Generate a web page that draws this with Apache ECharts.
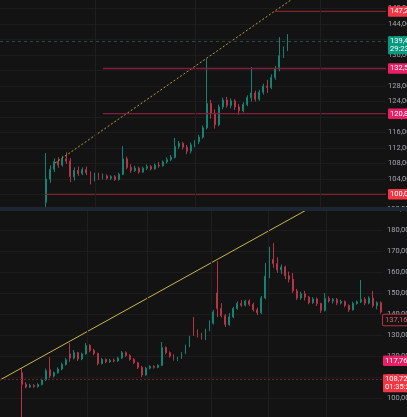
<!DOCTYPE html>
<html><head><meta charset="utf-8">
<script src="https://cdn.jsdelivr.net/npm/echarts@6/dist/echarts.min.js"></script>
<style>html,body{margin:0;padding:0;background:#131313;overflow:hidden}#c{width:407px;height:417px}</style>
</head><body><div id="c"></div>
<script>
// ---- data: [open, close, low, high] ----
const topOHLC = [
[98.0,104.0,96.8,110.7],[104.0,106.5,103.0,107.5],[106.5,108.5,105.8,109.3],[108.5,107.6,106.9,109.6],
[107.6,109.2,107.2,110.0],[109.2,108.6,107.9,110.9],[108.6,104.6,103.2,109.4],[104.6,106.2,103.6,107.0],
[106.2,105.4,104.8,107.2],[105.4,106.4,105.0,107.0],[106.4,105.6,105.0,107.2],[105.6,103.8,102.6,106.0],
[103.8,105.0,103.4,105.6],[105.0,104.4,103.8,105.6],[104.4,104.8,103.9,105.4],[104.8,104.2,103.8,105.2],
[104.2,104.6,103.7,105.0],[104.6,103.9,103.5,105.0],[103.9,105.2,103.6,105.6],[105.2,109.2,105.0,112.5],
[109.2,107.0,106.5,109.8],[107.0,106.2,105.6,107.8],[106.2,106.8,105.8,107.4],[106.8,105.8,105.4,107.2],
[105.8,106.8,105.6,107.2],[106.8,107.2,106.3,107.8],[107.2,106.6,106.2,107.6],[106.6,107.6,106.4,108.0],
[107.6,107.4,106.9,108.4],[107.4,108.4,107.2,108.8],[108.4,109.0,108.0,109.6],[109.0,109.6,108.6,110.2],
[109.6,112.4,109.3,114.6],[112.4,113.2,111.8,113.8],[113.2,112.2,111.6,113.6],[112.2,111.2,110.4,112.8],
[111.2,112.8,110.6,113.4],[112.8,113.6,112.2,114.0],[113.6,114.8,113.0,115.4],[114.8,117.2,114.4,117.8],
[117.2,123.5,116.8,135.0],[123.5,121.0,119.6,124.4],[121.0,118.0,117.0,122.0],[118.0,122.6,117.6,123.2],
[122.6,124.4,122.0,125.0],[124.4,123.0,122.4,125.2],[123.0,124.2,122.2,124.8],[124.2,122.6,121.8,124.6],
[122.6,121.6,120.6,123.4],[121.6,123.2,121.2,123.8],[123.2,125.0,122.8,125.6],[125.0,126.2,124.0,132.9],
[126.2,124.6,124.0,126.8],[124.6,126.4,124.2,127.0],[126.4,128.0,125.8,128.6],[128.0,127.6,126.2,129.6],
[127.6,130.2,127.2,131.0],[130.2,132.4,129.6,133.2],[132.4,135.8,131.8,140.6],[135.8,137.6,135.2,138.2],
[137.6,139.42,137.0,141.4]
];
const bottomOHLC = [
[112.0,106.5,90.5,114.3],[106.5,105.2,104.6,107.6],[105.2,106.0,104.8,106.8],[106.0,105.4,104.9,106.6],
[105.4,106.4,105.0,107.0],[106.4,108.6,106.0,109.2],[108.6,113.0,108.2,114.0],[113.5,110.5,109.5,119.5],
[110.5,112.0,109.8,112.6],[112.0,113.8,111.6,114.6],[113.8,116.0,113.2,116.8],[116.0,118.2,115.4,119.0],
[121.0,119.0,117.2,126.2],[119.0,121.6,118.4,122.9],[121.6,118.6,117.6,122.0],[118.6,121.0,118.0,121.6],
[121.0,125.0,120.6,126.2],[125.0,122.6,121.8,125.6],[122.6,121.2,120.4,123.4],[121.2,116.4,115.6,121.6],
[116.4,118.4,116.0,119.0],[118.4,117.2,116.6,118.8],[117.2,118.0,116.8,118.6],[118.0,117.6,117.0,118.8],
[117.6,119.0,117.2,119.6],[119.0,121.6,118.6,122.4],[121.6,120.2,119.6,122.2],[120.2,118.4,117.8,120.8],
[118.4,116.8,116.2,119.0],[116.8,114.6,113.8,117.2],[114.6,111.0,110.0,115.2],[111.0,114.2,110.6,114.8],
[114.2,115.0,113.6,115.6],[115.0,114.6,114.0,115.6],[114.6,115.6,114.2,116.0],[115.6,124.0,115.2,126.7],
[124.0,121.6,120.8,124.6],[121.6,120.0,119.2,122.2],[120.0,118.4,117.8,120.8],[118.4,119.0,117.6,119.6],
[119.0,121.2,118.6,121.8],[121.2,124.8,120.8,125.4],[124.8,129.0,124.2,129.6],[136.0,131.0,129.6,138.6],
[131.0,129.8,128.8,132.6],[129.8,128.6,127.8,131.0],[128.6,132.4,127.6,133.0],[132.4,135.6,131.8,137.0],
[135.6,141.0,135.0,141.9],[150.0,142.6,138.6,165.2],[142.6,139.2,138.4,145.2],[139.2,135.0,133.8,140.0],
[135.0,138.6,134.4,140.4],[138.6,142.6,138.0,143.4],[142.6,145.0,142.0,146.0],[145.0,144.2,143.4,146.7],
[144.2,146.2,143.6,146.8],[146.2,144.6,143.8,147.0],[144.6,142.0,141.2,145.4],[142.0,140.6,139.5,143.0],
[140.6,147.6,140.0,148.6],[147.6,158.0,147.0,164.3],[158.0,166.0,157.0,172.0],[166.0,164.0,162.0,173.8],
[164.0,161.0,159.6,167.0],[161.0,162.4,159.0,163.6],[162.4,158.2,156.6,163.0],[158.2,156.6,155.0,160.2],
[156.6,151.0,150.0,159.5],[151.0,147.6,146.7,152.0],[147.6,149.6,146.8,150.6],[149.6,148.0,146.4,151.0],
[148.0,145.4,144.6,148.6],[145.4,147.2,144.8,148.0],[147.2,145.0,143.8,147.8],[145.0,141.8,140.5,145.4],
[141.8,147.4,141.2,150.0],[147.4,146.2,145.4,148.4],[146.2,147.0,145.0,147.6],[147.0,145.2,144.2,147.6],
[145.2,146.0,144.6,146.8],[146.0,144.0,143.2,146.4],[144.0,142.0,141.0,144.6],[142.0,145.0,141.6,145.8],
[145.0,145.8,144.4,146.4],[145.8,147.0,145.2,156.2],[147.0,145.2,144.2,148.0],[145.2,147.6,144.6,148.4],
[147.6,144.0,143.0,151.0],[144.0,145.4,142.2,146.0],[145.4,141.0,140.2,146.0]
];
// horizontal levels drawn in the top panel
const topLevelValues = [147.24, 132.52, 120.86, 100.04];
const topLevelFrom = [68.4, 25.6, 25.6, 11.2];      // start slot of each drawn level
const topTrend = [[13.7, 108.13], [75, 152.1]];     // dotted trend line
const bottomTrend = [[0, 108.6], [80, 192.9]];      // solid trend line
// price tags on the right scale
const topTagValues = [147.24, 139.42, 132.52, 120.86, 100.04];
const topTagTexts = ['147,24', '139,42\n29:23', '132,52', '120,86', '100,04'];
const bottomTagValues = [137.16, 117.76, 108.72];
const bottomTagTexts = ['137,16', '117,76', '108,72\n01:35:29'];
const lastPriceTop = 139.42, lastPriceBottom = 108.72;

const SLOTS = 96, TOP_START = 11, BOTTOM_START = 5;
const cats = Array.from({length: SLOTS}, (_, i) => String(i));
function pad(arr, start) {
  const out = [];
  for (let i = 0; i < SLOTS; i++) {
    const k = i - start;
    out.push(k >= 0 && k < arr.length ? arr[k] : '-');
  }
  return out;
}
const fmt = v => v.toFixed(2).replace('.', ',');
const UP = '#148373', DOWN = '#b53446';
const FONT = 'Roboto';
const FS = 7.5;

function tag(v, text, bg, dist) {
  return {
    yAxis: v,
    lineStyle: {color: 'transparent', width: 1},
    label: {
      show: true, position: 'end', distance: dist, formatter: text,
      backgroundColor: bg, color: '#ffffff', fontSize: FS, fontFamily: FONT,
      lineHeight: 7.5, padding: [2, 4, 1, 2], borderRadius: 1,
      offset: text.indexOf('\n') >= 0 ? [0, 3.5] : [0, 0]
    }
  };
}
const topTagColors = ['#f23645', '#089981', '#e91e63', '#e91e63', '#f23645'];
const topTags = topTagValues.map((v, i) => {
  const t = tag(v, topTagTexts[i], topTagColors[i], 2);
  if (v === lastPriceTop) t.lineStyle = {color: '#1c5148', type: [3, 3], width: 1};
  return t;
});
const bottomTags = bottomTagValues.map((v, i) => {
  const t = tag(v, bottomTagTexts[i], ['#141414', '#e91e63', '#f23645'][i], 0);
  if (i === 0) { t.label.borderColor = '#b8323f'; t.label.borderWidth = 1; t.label.color = '#e0606c'; }
  if (v === lastPriceBottom) t.lineStyle = {color: '#6e2529', type: [2, 2], width: 1};
  return t;
});

const yLabel = {color: '#a3a6ad', fontSize: FS, fontFamily: FONT, margin: 2, formatter: fmt};
const chart = echarts.init(document.getElementById('c'), null, {renderer: 'canvas'});
const series = [
  // vertical grid lines
  {type: 'line', xAxisIndex: 1, yAxisIndex: 0, data: [], z: 1, silent: true,
   markLine: {symbol: ['none', 'none'], silent: true, label: {show: false},
     lineStyle: {color: '#1e1e1e', type: 'solid', width: 1},
     data: [{xAxis: 23.6}, {xAxis: 48.5}, {xAxis: 79.6}]}},
  {type: 'line', xAxisIndex: 3, yAxisIndex: 1, data: [], z: 1, silent: true,
   markLine: {symbol: ['none', 'none'], silent: true, label: {show: false},
     lineStyle: {color: '#1e1e1e', type: 'solid', width: 1},
     data: [{xAxis: 21.8}, {xAxis: 36.8}, {xAxis: 52.9}, {xAxis: 67.2}, {xAxis: 81.7}]}},
  // price tags (on the value x axes so lines span the full plot width)
  {type: 'line', xAxisIndex: 1, yAxisIndex: 0, data: [], z: 1, silent: true,
   markLine: {symbol: ['none', 'none'], silent: true, animation: false, data: topTags}},
  {type: 'line', xAxisIndex: 3, yAxisIndex: 1, data: [], z: 1, silent: true,
   markLine: {symbol: ['none', 'none'], silent: true, animation: false, data: bottomTags}},
  {type: 'candlestick', xAxisIndex: 0, yAxisIndex: 0, data: pad(topOHLC, TOP_START),
   barWidth: 1.4, itemStyle: {color: UP, color0: DOWN, borderColor: UP, borderColor0: DOWN, borderWidth: 1}},
  {type: 'candlestick', xAxisIndex: 2, yAxisIndex: 1, data: pad(bottomOHLC, BOTTOM_START),
   barWidth: 1.4, itemStyle: {color: UP, color0: DOWN, borderColor: UP, borderColor0: DOWN, borderWidth: 1}},
  {type: 'line', xAxisIndex: 1, yAxisIndex: 0, data: topTrend, showSymbol: false, silent: true,
   lineStyle: {color: '#b3a43a', width: 1, type: [2, 2]}},
  {type: 'line', xAxisIndex: 3, yAxisIndex: 1, data: bottomTrend, showSymbol: false, silent: true,
   lineStyle: {color: '#c9b64c', width: 1}}
];
topLevelValues.forEach((v, i) => {
  series.push({type: 'line', xAxisIndex: 1, yAxisIndex: 0, showSymbol: false, silent: true,
    data: [[topLevelFrom[i], v], [SLOTS, v]],
    lineStyle: {color: (i === 0 || i === 3) ? '#7e2530' : '#7f1f3c', width: 1.3}});
});

chart.setOption({
  backgroundColor: '#131313',
  animation: false,
  grid: [
    {left: 0, width: 386, top: -7, height: 217, outerBoundsMode: 'none', containLabel: false},
    {left: 0, width: 383, top: 209, height: 210, outerBoundsMode: 'none', containLabel: false}
  ],
  xAxis: [
    {type: 'category', gridIndex: 0, data: cats, show: false},
    {type: 'value', gridIndex: 0, min: 0, max: SLOTS, show: false},
    {type: 'category', gridIndex: 1, data: cats, show: false},
    {type: 'value', gridIndex: 1, min: 0, max: SLOTS, show: false}
  ],
  yAxis: [
    {type: 'value', gridIndex: 0, position: 'right', min: 96, max: 152, interval: 4,
     axisLine: {show: false}, axisTick: {show: false},
     axisLabel: Object.assign({showMinLabel: false, showMaxLabel: false}, yLabel),
     splitLine: {lineStyle: {color: '#1c1c1c', width: 1}}},
    {type: 'value', gridIndex: 1, position: 'right', min: 90, max: 190, interval: 10,
     axisLine: {show: false}, axisTick: {show: false},
     axisLabel: Object.assign({showMinLabel: false}, yLabel, {margin: 4}),
     splitLine: {lineStyle: {color: '#1c1c1c', width: 1}}}
  ],
  graphic: [
    {type: 'rect', left: 0, top: 207, shape: {width: 407, height: 4}, style: {fill: '#1d2733'}, z: 100}
  ],
  series: series
});
</script></body></html>
